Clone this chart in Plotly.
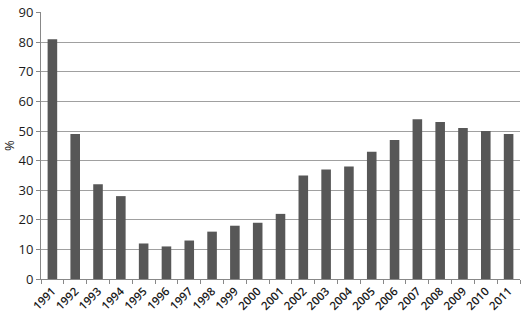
import plotly.graph_objects as go

years = [str(y) for y in range(1991, 2012)]
values = [81, 49, 32, 28, 12, 11, 13, 16, 18, 19, 22, 35, 37, 38, 43, 47, 54, 53, 51, 50, 49]
y_ticks = [0, 10, 20, 30, 40, 50, 60, 70, 80, 90]

fig = go.Figure(go.Bar(x=years, y=values, marker=dict(color="#575757", line=dict(width=0)),
                       width=0.42))
fig.update_layout(
    width=523, height=316,
    margin=dict(l=37, r=3, t=6, b=36),
    paper_bgcolor="white", plot_bgcolor="white",
    font=dict(family="Open Sans", color="#1a1a1a", size=12),
    showlegend=False,
)
fig.update_xaxes(type="category", tickangle=-45, showline=True, linecolor="#888",
                 ticks="outside", tickson="boundaries", ticklen=4, tickcolor="#888",
                 tickfont=dict(size=11.5, family="Open Sans SemiBold, Open Sans"), showgrid=False)
fig.update_yaxes(range=[0, 90.2], tickvals=y_ticks, showgrid=True, gridcolor="#a0a0a0",
                 showline=True, linecolor="#888", ticks="outside", ticklen=4, tickcolor="#888",
                 tickfont=dict(size=13), zeroline=False, ticklabeloverflow="allow",
                 title=dict(text="%", standoff=6, font=dict(size=13)))
fig.write_html("out.html")
